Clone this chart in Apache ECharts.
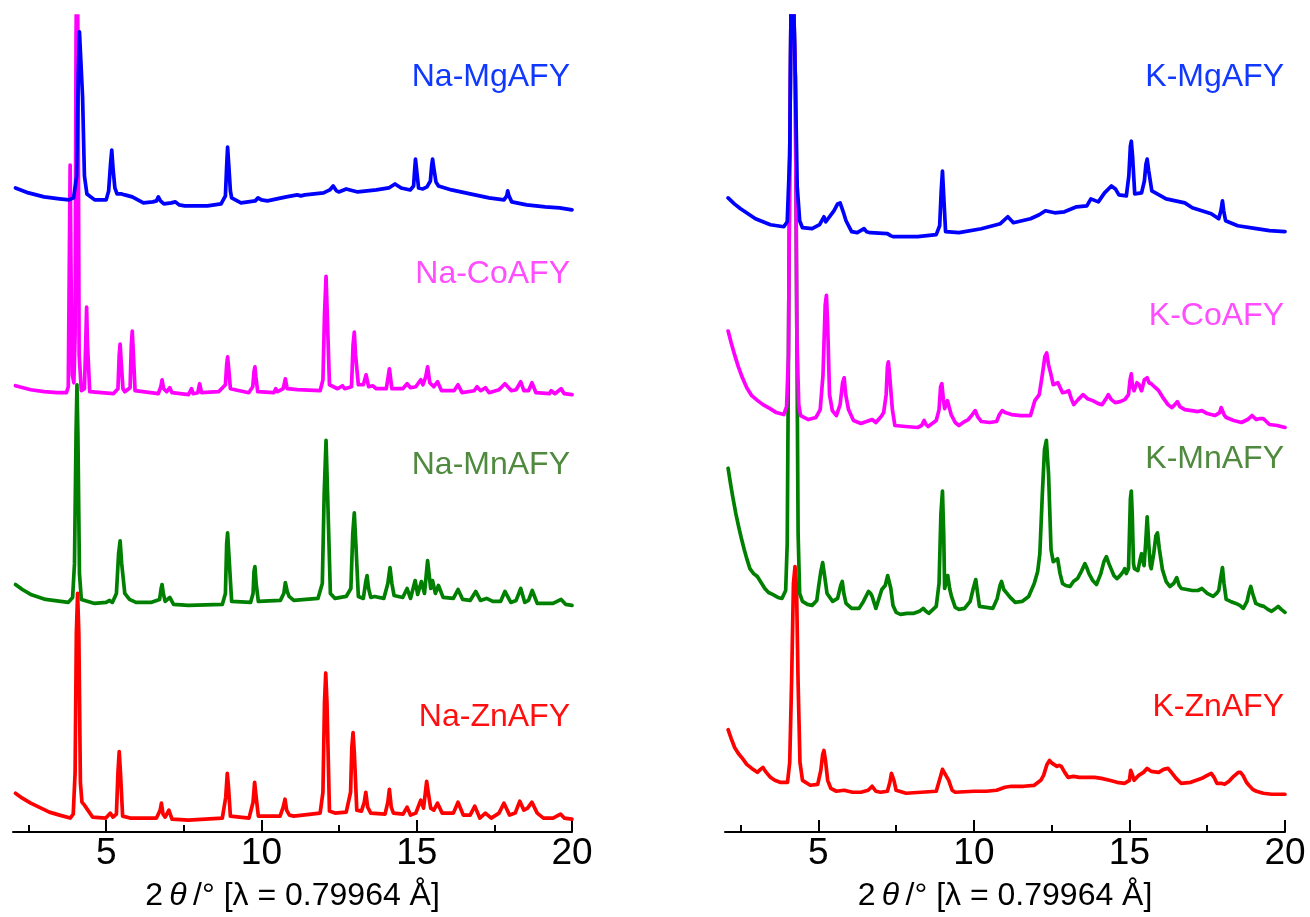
<!DOCTYPE html>
<html>
<head>
<meta charset="utf-8">
<style>html,body{margin:0;padding:0;background:#fff}#c{width:1310px;height:917px}</style>
<script src="https://cdn.jsdelivr.net/npm/echarts@6/dist/echarts.min.js"></script>
</head>
<body>
<div id="c"></div>
<script>
// ---- data: [2theta (deg), offset intensity (a.u.)] ----
const naMg = [[2.08,648],[2.5,643],[3.0,639],[3.5,637],[3.8,636],[3.95,638],[4.05,660],[4.1,760],[4.14,805],[4.2,805],[4.24,740],[4.3,660],[4.38,642],[4.63,636],[5.0,636],[5.08,645],[5.14,672],[5.18,686],[5.22,668],[5.28,648],[5.35,642],[5.5,642],[5.6,641],[5.84,639],[6.2,633],[6.5,634],[6.62,635],[6.68,639],[6.75,635],[6.86,632],[7.1,633],[7.23,634],[7.35,631],[7.53,630],[8.26,630],[8.7,632],[8.84,640],[8.88,670],[8.91,689],[8.95,670],[9.0,645],[9.04,638],[9.34,633],[9.8,635],[9.89,638],[10.0,636],[10.19,635],[10.8,639],[11.15,641],[11.2,643],[11.27,640],[11.4,641],[12.0,643],[12.2,646],[12.31,650],[12.42,645],[12.49,644],[12.73,647],[13.1,644],[13.7,646],[14.1,648],[14.3,652],[14.5,648],[14.79,646],[14.9,650],[14.93,665],[14.96,677],[15.0,665],[15.06,648],[15.2,647],[15.33,649],[15.44,655],[15.48,670],[15.51,677],[15.55,668],[15.62,654],[15.7,650],[16.12,646],[16.72,642],[17.33,638],[17.81,636],[17.9,640],[17.93,645],[17.97,640],[18.06,634],[18.54,631],[19.14,629],[19.6,628],[20.0,626]];
const naCo = [[2.08,449],[2.57,445],[3.0,443],[3.42,442],[3.72,442],[3.78,448],[3.81,560],[3.84,671],[3.87,560],[3.91,460],[3.96,452],[4.0,500],[4.03,800],[4.06,900],[4.09,800],[4.13,480],[4.2,444],[4.3,446],[4.34,490],[4.37,528],[4.4,490],[4.47,443],[5.23,441],[5.38,446],[5.42,480],[5.45,491],[5.48,475],[5.54,446],[5.6,443],[5.77,447],[5.81,490],[5.84,504],[5.87,485],[5.93,444],[6.68,441],[6.76,448],[6.8,455],[6.85,446],[6.95,443],[7.05,447],[7.12,442],[7.65,440],[7.75,446],[7.8,441],[7.95,442],[8.01,451],[8.07,442],[8.62,443],[8.84,450],[8.88,470],[8.91,478],[8.95,465],[9.0,446],[9.59,442],[9.72,448],[9.76,463],[9.79,468],[9.82,458],[9.88,443],[10.4,442],[10.46,446],[10.52,443],[10.7,446],[10.77,456],[10.83,446],[11.16,445],[11.89,444],[11.98,455],[12.03,520],[12.08,559],[12.12,520],[12.19,450],[12.45,446],[12.61,449],[12.68,446],[12.9,448],[12.95,490],[12.99,503],[13.03,480],[13.12,450],[13.28,450],[13.37,460],[13.45,448],[13.58,449],[13.7,446],[14.02,446],[14.12,466],[14.2,446],[14.55,446],[14.69,451],[14.8,447],[14.97,448],[15.13,455],[15.2,450],[15.29,458],[15.35,468],[15.42,452],[15.55,448],[15.67,453],[15.8,444],[16.2,444],[16.33,450],[16.46,442],[16.85,444],[16.94,448],[17.06,444],[17.21,447],[17.33,442],[17.65,445],[17.84,451],[18.05,444],[18.2,445],[18.35,453],[18.45,444],[18.6,444],[18.71,452],[18.84,442],[19.27,441],[19.33,444],[19.45,441],[19.65,446],[19.75,441],[20.0,440]];
const naMn = [[2.08,249],[2.3,244],[2.57,239],[3.05,234],[3.78,231],[3.92,236],[3.98,270],[4.03,400],[4.06,450],[4.09,400],[4.14,260],[4.2,234],[4.63,230],[5.0,231],[5.11,233],[5.2,231],[5.33,240],[5.4,280],[5.45,293],[5.5,270],[5.6,240],[5.75,234],[5.96,231],[6.44,231],[6.72,234],[6.77,245],[6.8,249],[6.84,240],[6.9,232],[7.05,236],[7.17,229],[7.65,228],[8.74,229],[8.84,240],[8.88,290],[8.91,301],[8.95,280],[9.04,232],[9.65,231],[9.73,240],[9.76,262],[9.79,267],[9.83,250],[9.9,232],[10.61,233],[10.72,240],[10.77,251],[10.83,242],[10.89,237],[11.04,233],[11.82,235],[11.96,250],[12.02,340],[12.08,394],[12.13,340],[12.22,240],[12.37,235],[12.73,237],[12.88,245],[12.94,300],[12.99,321],[13.04,290],[13.12,237],[13.28,235],[13.36,252],[13.4,258],[13.45,245],[13.52,236],[13.64,237],[13.94,235],[14.07,250],[14.14,266],[14.2,250],[14.27,238],[14.55,236],[14.69,245],[14.8,235],[14.95,253],[15.03,239],[15.15,252],[15.25,240],[15.35,273],[15.45,245],[15.51,253],[15.6,240],[15.7,248],[15.85,236],[16.18,235],[16.33,244],[16.48,234],[16.72,233],[16.9,242],[17.05,233],[17.25,235],[17.45,232],[17.7,232],[17.84,242],[18.03,231],[18.2,233],[18.35,245],[18.48,231],[18.6,233],[18.72,243],[18.88,230],[19.39,230],[19.65,234],[19.8,229],[20.0,228]];
const naZn = [[2.08,39],[2.3,34],[2.57,29],[3.17,20],[3.5,17],[3.84,14],[3.94,18],[4.0,60],[4.04,200],[4.08,240],[4.12,200],[4.17,50],[4.22,30],[4.3,27],[4.41,22],[4.56,15],[4.99,14],[5.13,19],[5.22,15],[5.33,18],[5.38,60],[5.42,81],[5.46,60],[5.53,16],[5.77,14],[6.62,14],[6.74,22],[6.78,29],[6.83,18],[6.9,15],[7.02,22],[7.12,13],[7.65,12],[8.74,14],[8.85,35],[8.9,59],[8.94,45],[9.0,16],[9.6,14],[9.73,30],[9.78,50],[9.82,38],[9.9,16],[10.6,16],[10.7,25],[10.76,33],[10.81,22],[10.9,17],[11.04,16],[11.89,19],[11.98,40],[12.03,130],[12.07,160],[12.11,130],[12.19,21],[12.37,19],[12.73,20],[12.87,40],[12.91,85],[12.95,100],[12.99,80],[13.07,22],[13.22,21],[13.31,30],[13.36,40],[13.42,25],[13.52,19],[13.98,18],[14.07,30],[14.12,43],[14.18,25],[14.25,19],[14.56,18],[14.69,25],[14.8,17],[14.97,19],[15.13,32],[15.22,24],[15.28,40],[15.32,51],[15.37,40],[15.45,24],[15.55,22],[15.67,29],[15.82,19],[16.18,19],[16.33,30],[16.5,17],[16.72,17],[16.87,26],[17.03,14],[17.21,19],[17.4,14],[17.65,19],[17.81,29],[17.99,17],[18.17,19],[18.32,31],[18.45,22],[18.57,24],[18.71,30],[18.88,19],[19.08,14],[19.39,14],[19.63,18],[19.75,14],[20.0,13]];
const kMg = [[2.1,638],[2.3,632],[2.5,627],[2.98,617],[3.46,611],[3.89,609],[4.0,614],[4.08,680],[4.13,860],[4.16,900],[4.22,900],[4.26,760],[4.32,650],[4.4,615],[4.49,608],[4.8,607],[5.04,611],[5.18,619],[5.24,614],[5.3,615],[5.5,625],[5.62,632],[5.7,633],[5.8,624],[5.89,615],[6.07,604],[6.25,603],[6.47,607],[6.55,604],[6.67,603],[7.22,602],[7.32,600],[7.4,599],[8.19,599],[8.79,601],[8.9,610],[8.95,645],[8.99,665],[9.03,640],[9.09,604],[9.52,603],[10.24,607],[10.85,612],[11.09,619],[11.27,613],[11.82,617],[12.1,621],[12.3,625],[12.6,623],[12.91,624],[13.3,629],[13.63,630],[13.76,637],[14.0,634],[14.2,643],[14.42,650],[14.55,647],[14.66,641],[14.9,640],[14.98,660],[15.03,690],[15.06,695],[15.1,680],[15.17,642],[15.39,643],[15.48,655],[15.53,672],[15.57,677],[15.62,665],[15.72,645],[16.18,637],[16.78,633],[17.02,628],[17.63,622],[17.87,617],[17.94,625],[17.99,635],[18.03,625],[18.09,615],[18.48,610],[19.08,607],[19.5,605],[20.0,604]];
const kCo = [[2.1,504],[2.2,492],[2.31,480],[2.43,468],[2.56,457],[2.7,447],[2.86,439],[3.05,434],[3.22,430],[3.45,426],[3.65,422],[3.89,420],[3.98,428],[4.04,480],[4.08,680],[4.13,860],[4.16,900],[4.22,900],[4.26,760],[4.31,500],[4.37,430],[4.43,419],[4.68,415],[4.92,417],[5.06,425],[5.15,460],[5.22,530],[5.26,540],[5.3,510],[5.36,440],[5.45,424],[5.58,419],[5.7,430],[5.78,452],[5.83,457],[5.88,440],[5.97,425],[6.13,414],[6.37,411],[6.55,413],[6.73,415],[6.85,412],[7.02,418],[7.1,422],[7.18,440],[7.22,468],[7.25,473],[7.29,460],[7.38,425],[7.46,409],[7.8,408],[8.19,407],[8.32,409],[8.4,414],[8.46,410],[8.53,408],[8.79,414],[8.88,425],[8.93,448],[8.97,451],[9.02,435],[9.06,426],[9.15,434],[9.2,428],[9.27,420],[9.4,412],[9.52,409],[9.7,413],[9.82,415],[9.95,420],[10.04,424],[10.12,418],[10.24,413],[10.5,412],[10.73,413],[10.82,420],[10.91,424],[11.0,422],[11.21,420],[11.5,419],[11.82,419],[11.96,434],[12.1,440],[12.2,460],[12.28,478],[12.34,482],[12.4,470],[12.48,460],[12.55,450],[12.6,449],[12.7,452],[12.76,454],[12.85,442],[12.91,442],[12.98,443],[13.05,444],[13.13,436],[13.21,430],[13.35,435],[13.51,440],[13.65,436],[13.82,434],[14.0,431],[14.12,430],[14.25,436],[14.32,440],[14.42,435],[14.54,432],[14.7,433],[14.85,435],[14.97,440],[15.02,455],[15.06,461],[15.1,448],[15.15,444],[15.24,452],[15.31,450],[15.39,444],[15.48,455],[15.57,457],[15.63,452],[15.7,451],[15.8,448],[15.94,444],[16.1,436],[16.24,430],[16.36,427],[16.46,430],[16.54,433],[16.62,428],[16.78,425],[17.0,424],[17.2,423],[17.33,424],[17.5,421],[17.75,419],[17.9,422],[17.95,427],[17.99,427],[18.04,420],[18.11,417],[18.35,414],[18.6,412],[18.8,415],[18.94,419],[19.08,415],[19.2,416],[19.3,416],[19.5,410],[19.75,409],[20.0,407]];
const kMn = [[2.1,366],[2.18,350],[2.25,337],[2.35,320],[2.44,307],[2.53,295],[2.62,284],[2.71,274],[2.8,265],[2.92,260],[3.04,257],[3.16,251],[3.28,245],[3.4,241],[3.53,239],[3.7,236],[3.83,235],[3.95,243],[4.0,290],[4.04,480],[4.08,680],[4.13,860],[4.16,900],[4.22,900],[4.26,760],[4.31,500],[4.35,300],[4.4,240],[4.49,232],[4.65,229],[4.8,228],[4.95,233],[5.01,247],[5.08,262],[5.14,271],[5.2,258],[5.28,240],[5.46,232],[5.62,235],[5.72,248],[5.77,252],[5.82,240],[5.89,230],[6.07,225],[6.31,225],[6.45,232],[6.61,242],[6.68,240],[6.73,237],[6.85,225],[6.95,235],[7.04,244],[7.15,248],[7.23,258],[7.28,260],[7.33,245],[7.4,228],[7.5,221],[7.64,219],[7.85,220],[8.07,220],[8.25,222],[8.37,225],[8.46,222],[8.55,220],[8.79,227],[8.88,250],[8.94,320],[8.99,343],[9.03,300],[9.06,245],[9.16,258],[9.22,245],[9.28,237],[9.4,226],[9.52,224],[9.7,225],[9.88,232],[9.98,245],[10.06,254],[10.12,240],[10.18,227],[10.4,226],[10.61,225],[10.75,235],[10.84,248],[10.89,252],[10.96,244],[11.09,239],[11.2,235],[11.33,231],[11.55,232],[11.76,237],[11.94,250],[12.05,262],[12.12,280],[12.2,340],[12.27,385],[12.33,394],[12.4,360],[12.48,284],[12.55,272],[12.6,270],[12.69,275],[12.77,260],[12.85,250],[12.95,248],[13.09,247],[13.2,252],[13.33,255],[13.45,262],[13.57,270],[13.64,265],[13.7,260],[13.82,253],[13.94,249],[14.08,260],[14.18,272],[14.26,277],[14.34,270],[14.42,264],[14.5,258],[14.6,255],[14.7,258],[14.8,262],[14.85,265],[14.9,260],[14.97,265],[15.0,300],[15.03,335],[15.06,343],[15.09,320],[15.13,270],[15.16,265],[15.27,263],[15.35,275],[15.39,280],[15.44,272],[15.47,268],[15.52,290],[15.57,317],[15.62,290],[15.67,268],[15.7,265],[15.78,280],[15.85,298],[15.9,301],[15.96,285],[16.06,264],[16.18,252],[16.3,247],[16.42,250],[16.52,256],[16.6,248],[16.67,245],[16.85,244],[17.02,243],[17.2,243],[17.33,245],[17.5,240],[17.69,237],[17.8,240],[17.87,243],[17.93,255],[17.99,266],[18.04,250],[18.11,234],[18.25,232],[18.42,230],[18.55,228],[18.66,225],[18.78,232],[18.85,242],[18.9,247],[18.96,240],[19.06,230],[19.2,228],[19.32,227],[19.45,224],[19.57,222],[19.7,225],[19.78,227],[19.88,224],[20.0,221]];
const kZn = [[2.1,103],[2.2,94],[2.31,85],[2.43,79],[2.56,74],[2.7,68],[2.86,64],[3.04,60],[3.14,63],[3.22,65],[3.3,61],[3.46,55],[3.6,52],[3.77,50],[4.01,50],[4.08,70],[4.14,150],[4.2,250],[4.25,267],[4.3,245],[4.35,150],[4.41,70],[4.49,52],[4.74,47],[4.98,48],[5.08,62],[5.14,78],[5.18,82],[5.23,72],[5.3,52],[5.4,44],[5.58,41],[5.83,42],[6.1,40],[6.37,40],[6.6,42],[6.73,46],[6.85,41],[7.0,40],[7.22,41],[7.3,50],[7.35,59],[7.38,60],[7.43,52],[7.5,42],[7.82,39],[8.3,40],[8.79,41],[8.92,55],[8.99,63],[9.05,62],[9.19,52],[9.3,42],[9.4,40],[10.0,41],[10.4,41],[10.73,42],[11.0,45],[11.21,46],[11.6,46],[11.94,47],[12.15,52],[12.24,57],[12.35,68],[12.43,72],[12.52,69],[12.67,66],[12.74,67],[12.81,66],[12.92,60],[13.03,55],[13.2,56],[13.39,55],[13.6,55],[13.88,55],[14.1,54],[14.36,52],[14.6,50],[14.85,49],[15.0,52],[15.04,62],[15.06,64],[15.09,58],[15.15,52],[15.3,57],[15.45,60],[15.57,64],[15.7,61],[15.94,60],[16.1,63],[16.24,64],[16.35,60],[16.5,54],[16.66,49],[16.97,50],[17.15,52],[17.33,54],[17.5,57],[17.63,59],[17.72,55],[17.81,49],[17.95,49],[18.06,48],[18.2,51],[18.35,56],[18.5,60],[18.57,60],[18.65,57],[18.76,50],[18.84,47],[18.96,43],[19.08,41],[19.3,39],[19.57,38],[19.8,38],[20.0,38]];

const majorTicks = [5, 10, 15, 20];
const minorTicks = [2.5, 7.5, 12.5, 17.5];
const naNames = ['Na-MgAFY', 'Na-CoAFY', 'Na-MnAFY', 'Na-ZnAFY'];
const kNames = ['K-MgAFY', 'K-CoAFY', 'K-MnAFY', 'K-ZnAFY'];
const axisTitle = '{a|2\u2009}{b|θ}{a|\u2009/° [λ = 0.79964 Å]}';

// ---- styling ----
const lineColors = ['#0000ff', '#ff00ff', '#008000', '#ff0000'];
const labelColors = ['#1038ff', '#ff4dff', '#4f8a3e', '#ff1010'];
const FONT = 'Liberation Sans, Arial, Helvetica, sans-serif';

const chart = echarts.init(document.getElementById('c'), null, {renderer: 'canvas'});

function mainX(gi) {
  return {
    type: 'value', gridIndex: gi, min: 2, max: 20, position: 'bottom',
    splitLine: {show: false},
    axisLine: {show: true, onZero: false, lineStyle: {color: '#000', width: 2}},
    axisTick: {show: true, inside: true, length: 12, customValues: majorTicks, lineStyle: {color: '#000', width: 2}},
    axisLabel: {show: true, customValues: majorTicks, fontSize: 37, color: '#000', margin: 3, fontFamily: FONT},
    name: axisTitle, nameLocation: 'middle', nameGap: 48,
    nameTextStyle: {
      rich: {
        a: {fontSize: 32, fontFamily: FONT, color: '#000'},
        b: {fontSize: 32, fontFamily: FONT, fontStyle: 'italic', color: '#000'}
      }
    }
  };
}
function minorX(gi) {
  return {
    type: 'value', gridIndex: gi, min: 2, max: 20, position: 'bottom', offset: 0,
    splitLine: {show: false},
    axisLine: {show: false, onZero: false},
    axisTick: {show: true, inside: true, length: 7, customValues: minorTicks, lineStyle: {color: '#000', width: 2}},
    axisLabel: {show: false}
  };
}
function yAx(gi) {
  return {type: 'value', gridIndex: gi, min: 0, max: 821, show: false, splitLine: {show: false}};
}
function ser(name, data, color, gi) {
  return {
    name, type: 'line', data, xAxisIndex: gi * 2, yAxisIndex: gi,
    showSymbol: false, symbol: 'none', smooth: false, clip: true,
    lineStyle: {color, width: 3.7, join: 'round', cap: 'round'},
    emphasis: {disabled: true}
  };
}

const naData = [naMg, naCo, naMn, naZn];
const kData = [kMg, kCo, kMn, kZn];
const series = [];
for (let i = 3; i >= 0; i--) series.push(ser(naNames[i], naData[i], lineColors[i], 0));
for (let i = 3; i >= 0; i--) series.push(ser(kNames[i], kData[i], lineColors[i], 1));

const naLabelY = [77, 274, 465, 717];
const kLabelY = [77, 316, 459, 707];
const graphics = [];
for (let i = 0; i < 4; i++) {
  graphics.push({type: 'text', x: 570, y: naLabelY[i], silent: true,
    style: {text: naNames[i], fill: labelColors[i], font: '32px ' + FONT, align: 'right', verticalAlign: 'middle', textAlign: 'right', textVerticalAlign: 'middle'}});
  graphics.push({type: 'text', x: 1284, y: kLabelY[i], silent: true,
    style: {text: kNames[i], fill: labelColors[i], font: '32px ' + FONT, align: 'right', verticalAlign: 'middle', textAlign: 'right', textVerticalAlign: 'middle'}});
}

chart.setOption({
  backgroundColor: '#fff',
  animation: false,
  grid: [
    {left: 13, right: 738, top: 16, bottom: 80, containLabel: false},
    {left: 725, right: 25, top: 16, bottom: 80, containLabel: false}
  ],
  xAxis: [mainX(0), minorX(0), mainX(1), minorX(1)],
  yAxis: [yAx(0), yAx(1)],
  series: series,
  graphic: graphics
});
</script>
</body>
</html>
